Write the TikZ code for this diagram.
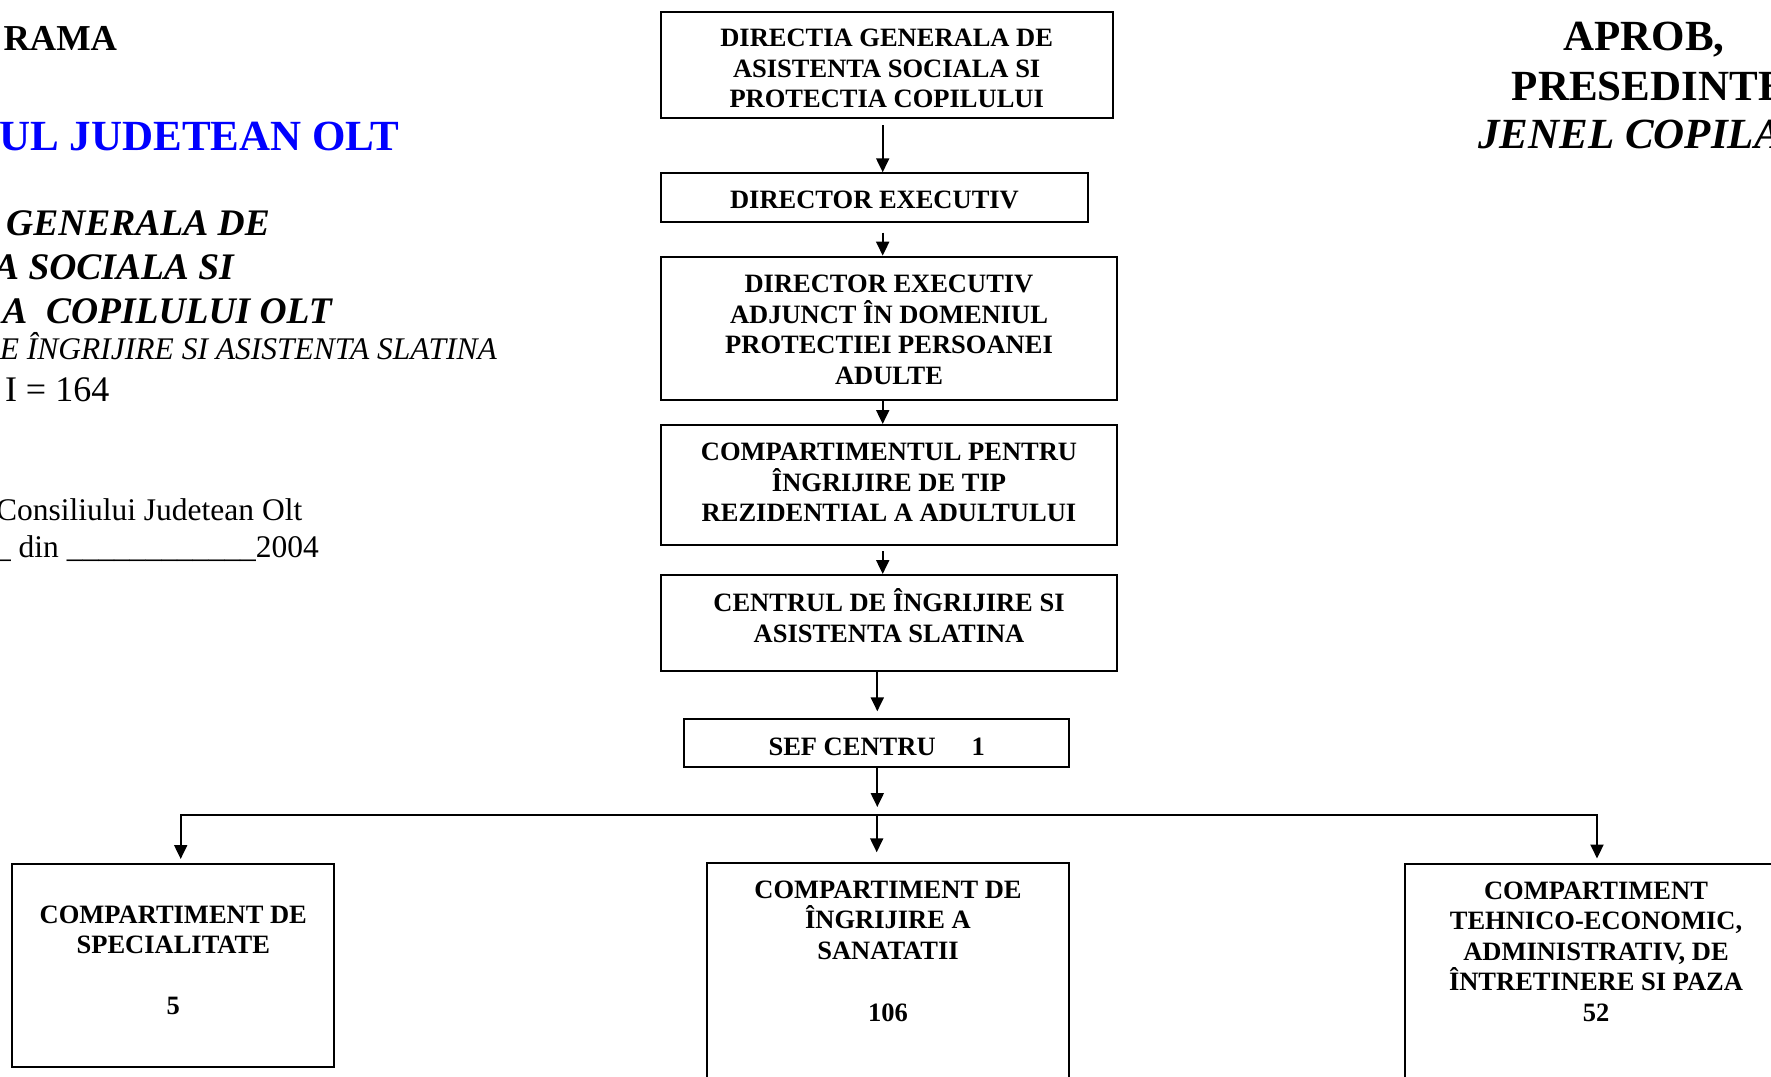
\documentclass[tikz,border=0pt]{standalone}
\usepackage{fontspec}
\setmainfont{Liberation Serif}
\usetikzlibrary{arrows.meta,calc}
\newcommand\boxfont{\fontsize{26.5}{30.5}\selectfont\bfseries}
\definecolor{hdrblue}{RGB}{0,0,255}
\tikzset{
  box/.style={draw, line width=2pt, inner sep=0pt},
  txt/.style={inner sep=0pt, align=center, font=\boxfont},
  arr/.style={line width=2pt, -{Triangle[length=14pt,width=13pt]}},
  hdr/.style={inner sep=0pt},
}
\begin{document}
\begin{tikzpicture}[x=1pt,y=-1pt]
\useasboundingbox (0,0) rectangle (1771,1076);
\fill[white] (0,0) rectangle (1771,1076);
\clip (0,0) rectangle (1771,1076);

% left header
\node[hdr, anchor=base east, font=\fontsize{36.5}{40}\selectfont\bfseries] (h1) at (117.3,50) {RAMA};
\node[hdr, anchor=base east, text=hdrblue, font=\fontsize{43}{48}\selectfont\bfseries] (h2) at (399.5,150) {UL JUDETEAN OLT};
\node[hdr, anchor=base east, font=\fontsize{37.5}{43}\selectfont\bfseries\itshape] (h3) at (270,235) {GENERALA DE};
\node[hdr, anchor=base east, font=\fontsize{37.5}{43}\selectfont\bfseries\itshape] (h4) at (234,279) {A SOCIALA SI};
\node[hdr, anchor=base east, font=\fontsize{37.5}{43}\selectfont\bfseries\itshape] (h5) at (332,323) {A\ \ COPILULUI OLT};
\node[hdr, anchor=base east, font=\fontsize{31.5}{36}\selectfont\itshape] (h6) at (497,359) {E ÎNGRIJIRE SI ASISTENTA SLATINA};
\node[hdr, anchor=base east, font=\fontsize{36}{40}\selectfont] (h7) at (109.5,401) {I = 164};
\node[hdr, anchor=base east, font=\fontsize{31.5}{36}\selectfont] (h8) at (302.5,520) {Consiliului Judetean Olt};
\node[hdr, anchor=base east, font=\fontsize{31.5}{36}\selectfont] (h9) at (319,557) {\_ din \_\_\_\_\_\_\_\_\_\_\_\_2004};

% right header
\node[hdr, anchor=base west, font=\fontsize{43}{48}\selectfont\bfseries] (r1) at (1563,50) {APROB,};
\node[hdr, anchor=base west, font=\fontsize{43}{48}\selectfont\bfseries] (r2) at (1511.7,100) {PRESEDINTE};
\node[hdr, anchor=base west, font=\fontsize{43}{48}\selectfont\bfseries\itshape] (r3) at (1478,148.5) {JENEL COPILA};

% boxes
\node[box, minimum width=452pt, minimum height=106.6pt] (b1) at (886.7,65) {};
\node[txt] (t1) at (886.7,68.6) {DIRECTIA GENERALA DE\\ASISTENTA SOCIALA SI\\PROTECTIA COPILULUI};
\node[box, minimum width=427.6pt, minimum height=48.4pt] (b2) at (874.5,197.5) {};
\node[txt] (t2) at (874.5,199.8) {DIRECTOR EXECUTIV};
\node[box, minimum width=456.6pt, minimum height=143.3pt] (b3) at (889,328.3) {};
\node[txt] (t3) at (889,330) {DIRECTOR EXECUTIV\\ADJUNCT ÎN DOMENIUL\\PROTECTIEI PERSOANEI\\ADULTE};
\node[box, minimum width=456.6pt, minimum height=120pt] (b4) at (889,485) {};
\node[txt] (t4) at (889,482.5) {COMPARTIMENTUL PENTRU\\ÎNGRIJIRE DE TIP\\REZIDENTIAL A ADULTULUI};
\node[box, minimum width=456.6pt, minimum height=96pt] (b5) at (889,623) {};
\node[txt] (t5) at (889,615.5) {CENTRUL DE ÎNGRIJIRE SI\\ASISTENTA SLATINA};
\node[box, minimum width=384.7pt, minimum height=48pt] (b6) at (876.7,743.3) {};
\node[txt] (t6) at (876.7,746.6) {SEF CENTRU\hspace{36pt}1};

\node[box, minimum width=321.9pt, minimum height=203.4pt] (bl) at (173.35,965.7) {};
\node[txt] (tl) at (173.3,960.5) {COMPARTIMENT DE\\SPECIALITATE\\[30.5pt]5};
\node[box, minimum width=361.7pt, minimum height=256.7pt] (bm) at (888.15,991.65) {};
\node[txt] (tm) at (888,951.5) {COMPARTIMENT DE\\ÎNGRIJIRE A\\SANATATII\\[32pt]106};
\node[box, minimum width=385pt, minimum height=256.5pt] (br) at (1597.5,991.75) {};
\node[txt] (tr) at (1596,951.5) {COMPARTIMENT\\TEHNICO-ECONOMIC,\\ADMINISTRATIV, DE\\ÎNTRETINERE SI PAZA\\52};

% connectors
\coordinate (xa) at (882.7,0);
\coordinate (xb) at (877.3,0);
\coordinate (busL) at (180.7,815);
\coordinate (busM) at (876.7,815);
\coordinate (busR) at (1597,815);

\draw[arr] ($(b1.south -| xa)+(0,6)$) -- (b2.north -| xa);
\draw[arr] ($(b2.south -| xa)+(0,10)$) -- (b3.north -| xa);
\draw[arr] (b3.south -| xa) -- (b4.north -| xa);
\draw[arr] ($(b4.south -| xa)+(0,5)$) -- (b5.north -| xa);
\draw[arr] (b5.south -| xb) -- ($(b6.north -| xb)+(0,-7)$);
\draw[arr] (b6.south -| xb) -- ($(busM -| xb)+(0,-8)$);
\draw[arr] (busR) -- (busL) -- ($(bl.north -| busL)+(0,-4)$);
\draw[arr] (busL) -- (busR) -- ($(br.north -| busR)+(0,-4)$);
\draw[arr] (busM) -- ($(bm.north -| busM)+(0,-10)$);
\end{tikzpicture}
\end{document}
